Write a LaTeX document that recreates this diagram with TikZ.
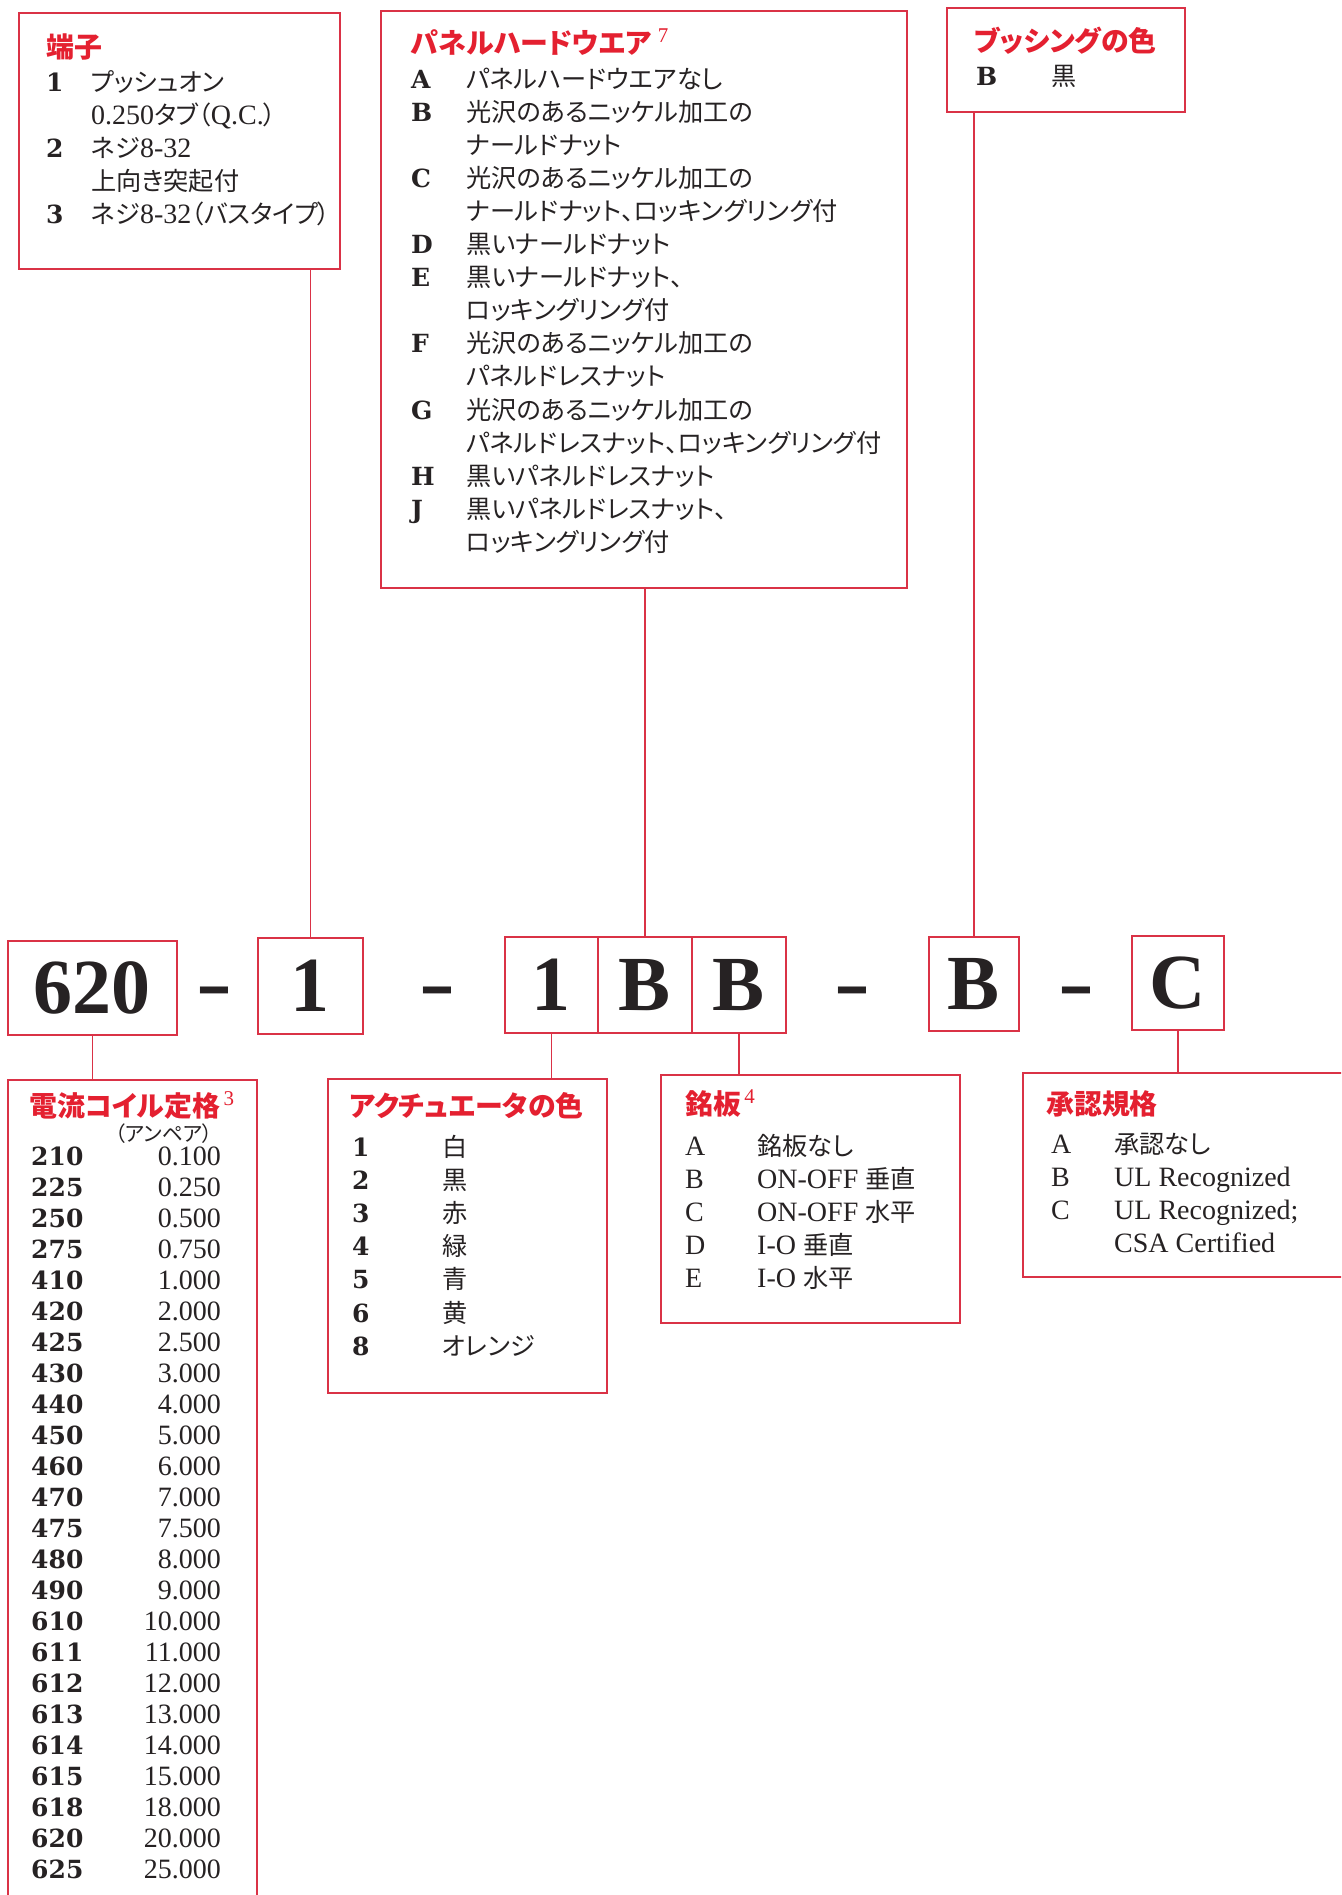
\documentclass[tikz,border=0pt]{standalone}
\usepackage{fontspec}
\setmainfont{Liberation Serif}
\newfontfamily\jp[Scale=0.9,RawFeature=+palt]{Noto Sans CJK JP}
\newfontfamily\bnum{DejaVu Serif}
\newcommand\J[1]{{\jp #1}}
\definecolor{tred}{RGB}{228,32,48}
\definecolor{bred}{RGB}{218,50,70}
\definecolor{ink}{RGB}{38,34,35}
\begin{document}
\begin{tikzpicture}[x=1pt,y=-1pt,
  box/.style={draw=bred,line width=1.8pt,inner sep=0,anchor=north west},
  conn/.style={draw=bred,line width=1.8pt},
  code/.style={box,text=ink,font=\fontsize{78}{80}\selectfont\bfseries},
  dashglyph/.style={inner sep=0,anchor=base,text=ink,font=\fontsize{60}{62}\selectfont\bfseries},
  ttl/.style={anchor=base west,inner sep=0,text=tred,font=\fontsize{31}{33}\selectfont\jp\bfseries},
  sup/.style={anchor=base west,inner sep=0,text=tred,font=\fontsize{21}{22}\selectfont},
  ln/.style={anchor=base west,inner sep=0,text=ink,font=\fontsize{28}{33}\selectfont},
  lnr/.style={anchor=base east,inner sep=0,text=ink,font=\fontsize{28}{33}\selectfont},
  jl/.style={anchor=base west,inner sep=0,text=ink,font=\fontsize{28}{33}\selectfont\jp},
  jsmall/.style={anchor=base west,inner sep=0,text=ink,font=\fontsize{23}{25}\selectfont\jp},
  bl/.style={anchor=base west,inner sep=0,text=ink,font=\fontsize{25}{30}\selectfont\bnum\bfseries},
]
\clip (0,0) rectangle (1341,1895);
\fill[white] (0,0) rectangle (1341,1895);

% ---------- top boxes ----------
\node[box,minimum width=321,minimum height=256] (tanshi) at (18,12) {};
\node[box,minimum width=526,minimum height=577] (panel) at (380,10) {};
\node[box,minimum width=238,minimum height=104] (bush) at (946,7) {};

% ---------- code row ----------
\node[code,minimum width=169,minimum height=94] (c620) at (7,940) {620};
\node[code,minimum width=105,minimum height=96] (c1) at (257,937) {1};
\node[code,minimum width=93,minimum height=96] (cA) at (504,936) {1};
\node[code,minimum width=94,minimum height=96] (cB) at (597,936) {B};
\node[code,minimum width=94,minimum height=96] (cC) at (691,936) {B};
\node[code,minimum width=90,minimum height=94] (cD) at (928,936) {B};
\node[code,minimum width=92,minimum height=94] (cE) at (1131,935) {C};
\node[dashglyph] (d1) at (214,1009) {\scalebox{1.8}[1.35]{-}};
\node[dashglyph] (d2) at (437,1009) {\scalebox{1.8}[1.35]{-}};
\node[dashglyph] (d3) at (852,1009) {\scalebox{1.8}[1.35]{-}};
\node[dashglyph] (d4) at (1076,1009) {\scalebox{1.8}[1.35]{-}};

% ---------- bottom boxes ----------
\node[box,minimum width=249,minimum height=900] (denryu) at (7,1079) {};
\node[box,minimum width=279,minimum height=314] (act) at (327,1078) {};
\node[box,minimum width=299,minimum height=248] (mei) at (660,1074) {};
\node[box,minimum width=420,minimum height=204] (sho) at (1022,1072) {};

% ---------- connectors ----------
\draw[conn] (c1.north) -- (c1.north |- tanshi.south);
\draw[conn] (cB.north) -- (cB.north |- panel.south);
\draw[conn] (cD.north) -- (cD.north |- bush.south);
\draw[conn] (c620.south) -- (c620.south |- denryu.north);
\draw[conn] (cA.south) -- (cA.south |- act.north);
\draw[conn] (cC.south) -- (cC.south |- mei.north);
\draw[conn] (cE.south) -- (cE.south |- sho.north);

% ---------- 端子 ----------
\node[ttl] (t1) at (46,57) {端子};
\node[bl] (t1n1) at (46,91) {1};
\node[ln] (t1a) at (91,91) {\J{プッシュオン}};
\node[ln] (t1b) at (91,124) {0.250\J{タブ（}Q.C.\J{）}};
\node[bl] (t1n2) at (46,157) {2};
\node[ln] (t1c) at (91,157) {\J{ネジ}8-32};
\node[ln] (t1d) at (91,190) {\J{上向き突起付}};
\node[bl] (t1n3) at (46,223) {3};
\node[ln] (t1e) at (91,223) {\J{ネジ}8-32\J{（バスタイプ）}};

% ---------- パネルハードウエア ----------
\node[ttl] (pt) at (411,53) {パネルハードウエア};
\node[sup,xshift=6pt,yshift=11pt] (s7) at (pt.base east) {7};
\foreach \t [count=\i from 0] in {パネルハードウエアなし,光沢のあるニッケル加工の,ナールドナット,光沢のあるニッケル加工の,ナールドナット、ロッキングリング付,黒いナールドナット,黒いナールドナット、,ロッキングリング付,光沢のあるニッケル加工の,パネルドレスナット,光沢のあるニッケル加工の,パネルドレスナット、ロッキングリング付,黒いパネルドレスナット,黒いパネルドレスナット、,ロッキングリング付}
  \node[jl] (pl\i) at (466,88+33.1*\i) {\t};
\foreach \l/\k in {A/0,B/1,C/3,D/5,E/6,F/8,G/10,H/12,J/13}
  \node[bl] (pk\l) at (411,88+33.1*\k) {\l};

% ---------- ブッシングの色 ----------
\node[ttl] (bt) at (974,51) {ブッシングの色};
\node[bl] (bB) at (976,85) {B};
\node[jl] (bK) at (1051,85) {黒};

% ---------- 電流コイル定格 ----------
\node[ttl] (dt) at (29,1116) {電流コイル定格};
\node[sup,xshift=3pt,yshift=11pt] (s3) at (dt.base east) {3};
\node[jsmall] (amp) at (115,1141) {（アンペア）};
\foreach \c/\v [count=\i from 0] in {210/0.100,225/0.250,250/0.500,275/0.750,410/1.000,420/2.000,425/2.500,430/3.000,440/4.000,450/5.000,460/6.000,470/7.000,475/7.500,480/8.000,490/9.000,610/10.000,611/11.000,612/12.000,613/13.000,614/14.000,615/15.000,618/18.000,620/20.000,625/25.000}{
  \node[bl] (dc\i) at (31,1165+31.04*\i) {\c};
  \node[lnr] (dv\i) at (221,1165+31.04*\i) {\v};
}

% ---------- アクチュエータの色 ----------
\node[ttl] (at) at (349,1116) {アクチュエータの色};
\foreach \n/\t [count=\i from 0] in {1/白,2/黒,3/赤,4/緑,5/青,6/黄,8/オレンジ}{
  \node[bl] (an\i) at (352,1156+33.2*\i) {\n};
  \node[jl] (aj\i) at (442,1156+33.2*\i) {\t};
}

% ---------- 銘板 ----------
\node[ttl] (mt) at (685,1114) {銘板};
\node[sup,xshift=3pt,yshift=11pt] (s4) at (mt.base east) {4};
\foreach \l/\t [count=\i from 0] in {A/\J{銘板なし},B/ON-OFF \J{垂直},C/ON-OFF \J{水平},D/I-O \J{垂直},E/I-O \J{水平}}{
  \node[ln] (ml\i) at (685,1155+33.2*\i) {\l};
  \node[ln] (mj\i) at (757,1155+33.2*\i) {\t};
}

% ---------- 承認規格 ----------
\node[ttl] (st) at (1046,1114) {承認規格};
\foreach \l/\t [count=\i from 0] in {A/\J{承認なし},B/UL Recognized,C/UL Recognized;}{
  \node[ln] (sl\i) at (1051,1153+33.3*\i) {\l};
  \node[ln] (sj\i) at (1114,1153+33.3*\i) {\t};
}
\node[ln] (sj3) at (1114,1153+33.3*3) {CSA Certified};
\end{tikzpicture}
\end{document}
